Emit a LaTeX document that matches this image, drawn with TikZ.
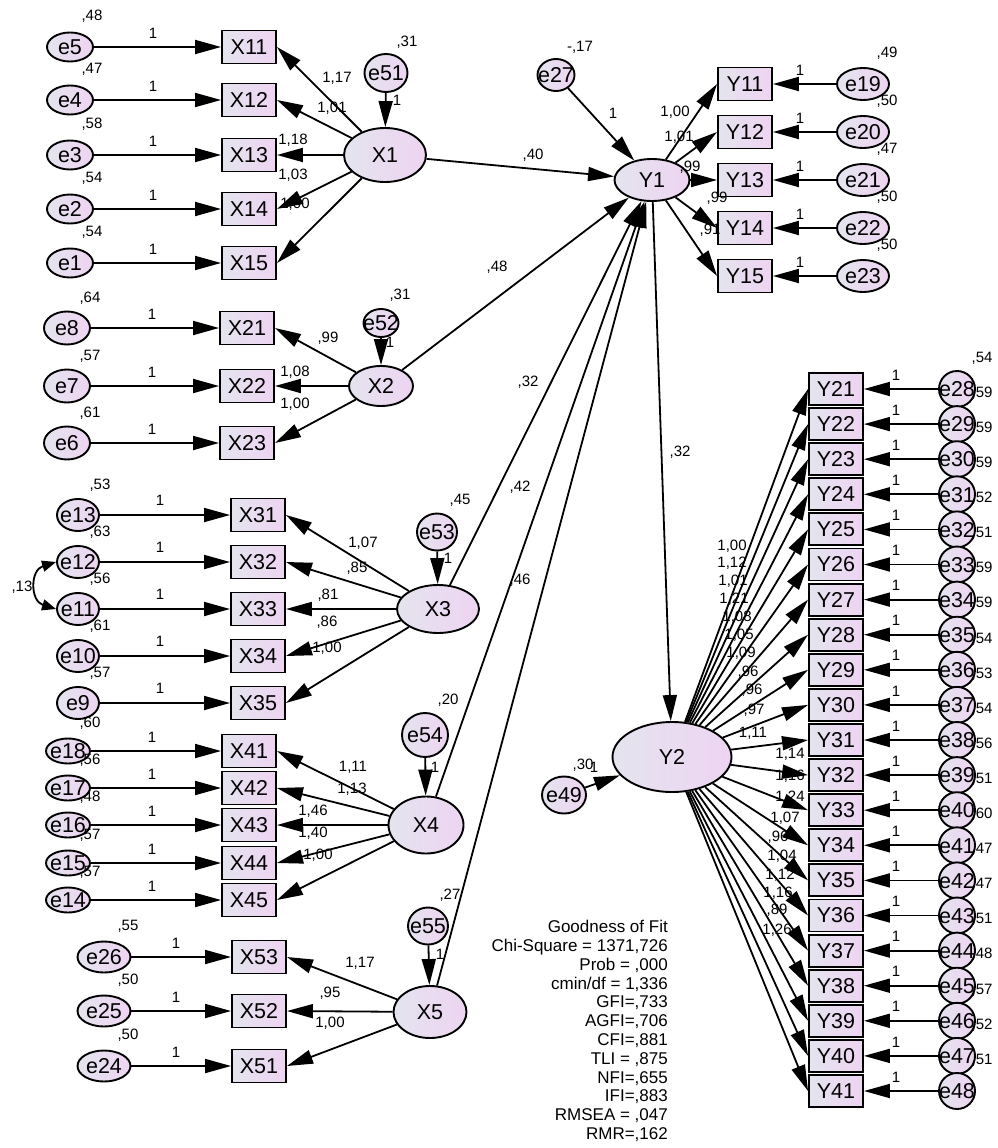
\documentclass[tikz,border=0pt]{standalone}
\usepackage{fontspec}
\setmainfont{Liberation Sans}
\usetikzlibrary{shapes.geometric,arrows.meta}
\definecolor{lavA}{RGB}{228,228,238}
\definecolor{lavB}{RGB}{238,212,242}
\newcommand\zt[1]{\smash{\makebox[0pt]{\raisebox{-0.36em}{#1}}}}
\tikzset{
 base/.style={draw=black, line width=1.9pt, left color=lavA, right color=lavB, inner sep=0pt},
 obs/.style={base, rectangle, minimum width=54pt, minimum height=33pt, font=\fontsize{21.5}{21.5}\selectfont},
 lat/.style={base, ellipse, font=\fontsize{21.5}{21.5}\selectfont},
 err/.style={base, ellipse, font=\fontsize{21.5}{21.5}\selectfont},
 lab/.style={inner sep=0pt, font=\fontsize{15}{15}\selectfont},
 arr/.style={line width=1.8pt, -{Triangle[length=26pt,width=14pt]}},
 cov/.style={line width=1.8pt, {Triangle[length=14pt,width=11pt]}-{Triangle[length=14pt,width=11pt]}},
}
\begin{document}
\begin{tikzpicture}[x=1pt,y=-1pt]
\fill[white] (0,0) rectangle (997,1148);
\useasboundingbox (0,0) rectangle (997,1148);

% ---------------- X1 block
\foreach \n/\b/\y/\vl in {5/11/47/{,48},4/12/100/{,47},3/13/155/{,58},2/14/209/{,54},1/15/263/{,54}} {
 \node[lab] at (92,\y-31) {\vl};
 \node[err, minimum width=46pt, minimum height=29pt] (e\n) at (70,\y) {\zt{e\n}};
 \node[obs] (X\b) at (249,\y) {X\b};
 \draw[arr] (e\n) -- (X\b);
 \node[lab] at (153,\y-14) {1};
}
\node[lat, minimum width=82pt, minimum height=54pt] (X1) at (385,155) {X1};
\node[lab] at (407,42) {,31};
\node[err, minimum width=43pt, minimum height=38pt] (e51) at (386,73) {\zt{e51}};
\draw[arr] (e51) -- (X1);
\node[lab] at (397,100) {1};
\foreach \b in {11,...,15} \draw[arr] (X1) -- (X\b.east);
\node[lab] at (337,78) {1,17};
\node[lab] at (332,108) {1,01};
\node[lab] at (293,140) {1,18};
\node[lab] at (293,175) {1,03};
\node[lab] at (295,204) {1,00};

% ---------------- X2 block
\foreach \n/\b/\y/\vl in {8/21/328/{,64},7/22/386/{,57},6/23/443/{,61}} {
 \node[lab] at (90,\y-30) {\vl};
 \node[err, minimum width=46pt, minimum height=33pt] (e\n) at (67,\y) {\zt{e\n}};
 \node[obs] (X\b) at (247,\y) {X\b};
 \draw[arr] (e\n) -- (X\b);
 \node[lab] at (152,\y-14) {1};
}
\node[lat, minimum width=64pt, minimum height=40pt] (X2) at (381,386) {X2};
\node[lab] at (400,295) {,31};
\node[err, minimum width=35pt, minimum height=28pt] (e52) at (381,323) {\zt{e52}};
\draw[arr] (e52) -- (X2);
\node[lab] at (390,342) {1};
\foreach \b in {21,22,23} \draw[arr] (X2) -- (X\b.east);
\node[lab] at (328,338) {,99};
\node[lab] at (295,372) {1,08};
\node[lab] at (295,404) {1,00};

% ---------------- X3 block
\foreach \n/\b/\y/\vl in {13/31/515/{,53},12/32/562/{,63},11/33/609/{,56},10/34/656/{,61},9/35/703/{,57}} {
 \node[lab] at (100,\y-30) {\vl};
 \node[err, minimum width=42pt, minimum height=32pt] (e\n) at (78,\y) {\zt{e\n}};
 \node[obs] (X\b) at (258,\y) {X\b};
 \draw[arr] (e\n) -- (X\b);
 \node[lab] at (160,\y-15) {1};
}
\draw[cov] (e12.west) .. controls (30,570) and (30,601) .. (e11.west);
\node[lab] at (22,587) {,13};
\node[lat, minimum width=82pt, minimum height=48pt] (X3) at (438,609) {X3};
\node[lab] at (460,500) {,45};
\node[err, minimum width=40pt, minimum height=37pt] (e53) at (437,532) {\zt{e53}};
\draw[arr] (e53) -- (X3);
\node[lab] at (448,558) {1};
\foreach \b in {31,...,35} \draw[arr] (X3) -- (X\b.east);
\node[lab] at (363,543) {1,07};
\node[lab] at (357,568) {,85};
\node[lab] at (328,595) {,81};
\node[lab] at (327,622) {,86};
\node[lab] at (327,648) {1,00};

% ---------------- X4 block
\foreach \n/\b/\y/\vl in {18/41/751/{,60},17/42/788/{,56},16/43/825/{,48},15/44/863/{,57},14/45/900/{,57}} {
 \node[lab] at (90,\y-28) {\vl};
 \node[err, minimum width=44pt, minimum height=25pt] (e\n) at (68,\y) {\zt{e\n}};
 \node[obs] (X\b) at (249,\y) {X\b};
 \draw[arr] (e\n) -- (X\b);
 \node[lab] at (152,\y-14) {1};
}
\node[lat, minimum width=75pt, minimum height=57pt] (X4) at (426,825) {X4};
\node[lab] at (448,700) {,20};
\node[err, minimum width=46pt, minimum height=44pt] (e54) at (425,735) {\zt{e54}};
\draw[arr] (e54) -- (X4);
\node[lab] at (435,767) {1};
\foreach \b in {41,...,45} \draw[arr] (X4) -- (X\b.east);
\node[lab] at (353,767) {1,11};
\node[lab] at (352,789) {1,13};
\node[lab] at (313,811) {1,46};
\node[lab] at (313,833) {1,40};
\node[lab] at (318,855) {1,00};

% ---------------- X5 block
\foreach \n/\b/\y/\vl in {26/53/957/{,55},25/52/1011/{,50},24/51/1066/{,50}} {
 \node[lab] at (128,\y-31) {\vl};
 \node[err, minimum width=53pt, minimum height=31pt] (e\n) at (104,\y) {\zt{e\n}};
 \node[obs] (X\b) at (259,\y) {X\b};
 \draw[arr] (e\n) -- (X\b);
 \node[lab] at (176,\y-14) {1};
}
\node[lat, minimum width=73pt, minimum height=52pt] (X5) at (430,1012) {X5};
\node[lab] at (450,895) {,27};
\node[err, minimum width=40pt, minimum height=37pt] (e55) at (428,926) {\zt{e55}};
\draw[arr] (e55) -- (X5);
\node[lab] at (440,954) {1};
\foreach \b in {53,52,51} \draw[arr] (X5) -- (X\b.east);
\node[lab] at (360,963) {1,17};
\node[lab] at (330,993) {,95};
\node[lab] at (330,1023) {1,00};

% ---------------- Y1 block
\node[lat, minimum width=75pt, minimum height=42pt] (Y1) at (652,180) {Y1};
\node[lab] at (580,47) {-,17};
\node[err, minimum width=37pt, minimum height=32pt] (e27) at (556,75) {\zt{e27}};
\draw[arr] (e27) -- (Y1);
\node[lab] at (613,113) {1};
\foreach \n/\b/\y/\vl in {19/11/84/{,49},20/12/132/{,50},21/13/180/{,47},22/14/228/{,50},23/15/276/{,50}} {
 \node[obs] (Y\b) at (745,\y) {Y\b};
 \node[lab] at (887,\y-31) {\vl};
 \node[err, minimum width=52pt, minimum height=32pt] (e\n) at (863,\y) {\zt{e\n}};
 \draw[arr] (e\n) -- (Y\b);
 \node[lab] at (800,\y-14) {1};
}
\foreach \b in {11,...,15} \draw[arr] (Y1) -- (Y\b.west);
\node[lab] at (675,112) {1,00};
\node[lab] at (679,137) {1,01};
\node[lab] at (690,167) {,99};
\node[lab] at (717,198) {,99};
\node[lab] at (710,230) {,91};

% ---------------- structural paths
\draw[arr] (X1) -- (Y1);
\draw[arr] (X2) -- (Y1);
\draw[arr] (X3) -- (Y1);
\draw[arr] (X4) -- (Y1);
\draw[arr] (X5) -- (Y1);
\node[lab] at (533,155) {,40};
\node[lab] at (497,267) {,48};
\node[lab] at (528,382) {,32};
\node[lab] at (520,487) {,42};
\node[lab] at (520,580) {,46};

% ---------------- Y2 block
\node[lat, minimum width=119pt, minimum height=70pt] (Y2) at (672,757) {Y2};
\draw[arr] (Y1) -- (Y2);
\node[lab] at (680,452) {,32};
\node[lab] at (583,765) {,30};
\node[err, minimum width=44pt, minimum height=37pt] (e49) at (564,795) {\zt{e49}};
\draw[arr] (e49) -- (Y2);
\node[lab] at (594,767) {1};

\foreach \i/\vl in {0/{,54},1/{,59},2/{,59},3/{,59},4/{,52},5/{,51},6/{,59},7/{,59},8/{,54},9/{,53},10/{,54},11/{,56},12/{,51},13/{,60},14/{,47},15/{,47},16/{,51},17/{,48},18/{,57},19/{,52},20/{,51}} {
 \pgfmathsetmacro\yy{389+35.1*\i}
 \pgfmathtruncatemacro\bn{21+\i}
 \pgfmathtruncatemacro\en{28+\i}
 \node[lab] at (982,\yy-31) {\vl};
 \node[obs, minimum height=32pt] (Y\bn) at (836,\yy) {Y\bn};
 \node[err, minimum width=36pt, minimum height=36pt] (e\en) at (957,\yy) {\zt{e\en}};
 \draw[arr] (e\en) -- (Y\bn);
 \node[lab] at (896,\yy-14) {1};
}
\foreach \k in {21,...,41} \draw[arr] (Y2) -- (Y\k.west);
\foreach \x/\y/\t in {732/546/{1,00},732/563/{1,12},733/581/{1,01},734/599/{1,21},737/617/{1,08},739/635/{1,05},741/653/{1,09},748/672/{,96},752/690/{,96},754/710/{,97},753/733/{1,11},790/754/{1,14},790/776/{1,16},790/797/{1,24},785/818/{1,07},778/837/{,96},782/856/{1,04},780/875/{1,12},778/893/{1,16},777/910/{,89},777/930/{1,26}}
 \node[lab] at (\x,\y) {\t};

% ---------------- Goodness of fit
\node[anchor=east, align=right, inner sep=0pt, font=\fontsize{17}{18.8}\selectfont] (gof) at (668,1031) {Goodness of Fit\\Chi-Square = 1371,726\\Prob = ,000\\cmin/df = 1,336\\GFI=,733\\AGFI=,706\\CFI=,881\\TLI = ,875\\NFI=,655\\IFI=,883\\RMSEA = ,047\\RMR=,162};
\end{tikzpicture}
\end{document}
